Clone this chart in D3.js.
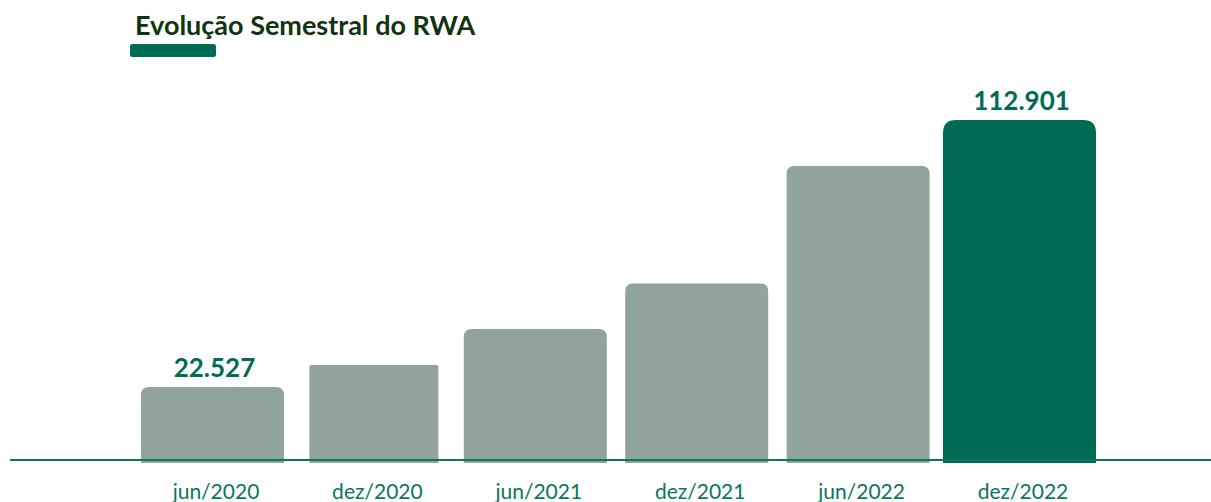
<!DOCTYPE html>
<html>
<head>
<meta charset="utf-8">
<script src="https://cdn.jsdelivr.net/npm/d3@7"></script>
<style>
  html, body { margin: 0; padding: 0; background: #ffffff; }
  svg { display: block; }
</style>
</head>
<body>
<div id="chart"></div>
<script>
// ---- data ----
const categories = ["jun/2020", "dez/2020", "jun/2021", "dez/2021", "jun/2022", "dez/2022"];
const rwaValues = [22527, 29970, 42140, 57560, 97340, 112901];
const labelledIndex = [0, 5];            // bars that carry a value label
const highlightIndex = 5;                // emphasised bar
const titleText = "Evolução Semestral do RWA";
const axisFloor = -3200;                 // value axis does not start at zero

// ---- styling / layout ----
const W = 1211, H = 502;
const barWidthPx = [143, 129, 143, 143, 143, 153];
const barRadiusPx = [8, 2, 8, 8, 8, 13];
const colGrey = "#91a49c";
const colDark = "#006b55";
const colLabel = "#0b7560";
const colAxis = "#0a7560";
const colTitle = "#10340f";

const fmt = v => d3.format(",")(v).replace(/,/g, ".");

const svg = d3.select("#chart").append("svg")
  .attr("width", W).attr("height", H);

const x = d3.scalePoint().domain(categories).range([212.5, 1019.5]);
const y = d3.scaleLinear().domain([axisFloor, d3.max(rwaValues)]).range([463, 120]);

function topRounded(x0, y0, w, h, r) {
  r = Math.min(r, w / 2, h);
  return `M${x0},${y0 + h}V${y0 + r}Q${x0},${y0} ${x0 + r},${y0}` +
         `H${x0 + w - r}Q${x0 + w},${y0} ${x0 + w},${y0 + r}V${y0 + h}Z`;
}

// title
svg.append("text")
  .attr("x", 135).attr("y", 35)
  .attr("font-family", "Lato, sans-serif")
  .attr("font-weight", 700)
  .attr("font-size", 27)
  .attr("fill", colTitle)
  .text(titleText);
svg.append("rect")
  .attr("x", 130).attr("y", 44).attr("width", 86).attr("height", 13)
  .attr("rx", 2.5).attr("fill", colDark);

// bars
svg.append("g").selectAll("path")
  .data(rwaValues)
  .join("path")
  .attr("d", (d, i) => {
    const w = barWidthPx[i];
    const x0 = x(categories[i]) - w / 2;
    const yt = y(d);
    return topRounded(x0, yt, w, y(axisFloor) - yt, barRadiusPx[i]);
  })
  .attr("fill", (d, i) => i === highlightIndex ? colDark : colGrey);

// baseline axis line
svg.append("line")
  .attr("x1", 10).attr("x2", W)
  .attr("y1", 460).attr("y2", 460)
  .attr("stroke", colAxis).attr("stroke-width", 2);

// value labels
svg.append("g").selectAll("text")
  .data(labelledIndex)
  .join("text")
  .attr("x", i => x(categories[i]) + 2)
  .attr("y", i => y(rwaValues[i]) - 10)
  .attr("text-anchor", "middle")
  .attr("font-family", "Lato, sans-serif")
  .attr("font-weight", 700)
  .attr("font-size", 26)
  .attr("fill", colDark)
  .text(i => fmt(rwaValues[i]));

// category axis labels
const xAxis = d3.axisBottom(x).tickSize(0).tickPadding(0);
const gx = svg.append("g").attr("transform", "translate(3,484)").call(xAxis);
gx.select(".domain").remove();
gx.selectAll("text")
  .attr("font-family", "Lato, sans-serif")
  .attr("font-size", 21)
  .attr("fill", colLabel)
  .attr("dy", "0.71em");
</script>
</body>
</html>
